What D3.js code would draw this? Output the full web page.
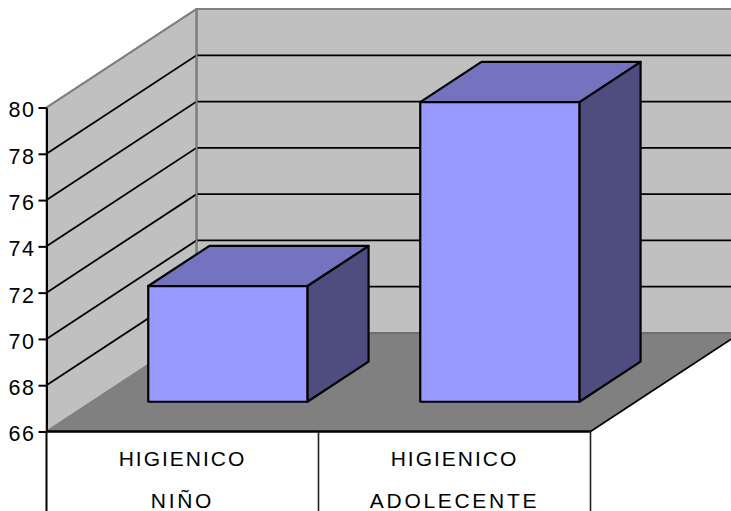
<!DOCTYPE html>
<html><head><meta charset="utf-8">
<script src="https://cdn.jsdelivr.net/npm/d3@7"></script>
<style>html,body{margin:0;padding:0;background:#fff;overflow:hidden}svg{display:block}text{font-family:"Liberation Sans",Arial,sans-serif;fill:#000}</style>
</head><body><script>
const categoryTop = ["HIGIENICO", "HIGIENICO"];
const categoryBottom = ["NIÑO", "ADOLECENTE"];
const values = [71, 78.95];
const tickValues = [66, 68, 70, 72, 74, 76, 78, 80];

const W = 731, H = 511;
const svg = d3.select("body").append("svg").attr("width", W).attr("height", H);
const y = d3.scaleLinear().domain([66, 80]).range([431.5, 107.5]);
const x = d3.scaleBand().domain(categoryBottom).range([46.5, 590.5]).paddingInner(0.415).paddingOuter(0.2075);
const dx = d3.scaleLinear().domain([0, 1]).range([0, 150]);
const dy = d3.scaleLinear().domain([0, 1]).range([0, -98.5]);
const P = (xv, v, d) => [xv + dx(d), y(v) + dy(d)];
const poly = (pts, fill, stroke, sw) => svg.append("polygon")
  .attr("points", pts.map(p => p.join(",")).join(" "))
  .attr("fill", fill).attr("stroke", stroke || "none").attr("stroke-width", sw || 0).attr("stroke-linejoin", "round");
const [x0, x1] = x.range();
const [vMin, vMax] = y.domain();

// back wall and side wall
poly([P(x0, vMin, 1), P(x0, vMax, 1), P(x1, vMax, 1), P(x1, vMin, 1)], "#C0C0C0", "#808080", 2);
poly([P(x0, vMin, 0), P(x0, vMax, 0), P(x0, vMax, 1), P(x0, vMin, 1)], "#C0C0C0", "#808080", 2);

// gridlines
tickValues.slice(1, -1).forEach(v => {
  const a = P(x0, v, 0), b = P(x0, v, 1), c = P(x1, v, 1);
  svg.append("polyline").attr("points", [a, b, c].map(p => p.join(",")).join(" "))
    .attr("fill", "none").attr("stroke", "#000").attr("stroke-width", 1.8);
});
{
  const a = P(x0, vMax, 0), b = P(x0, vMax, 1);
  svg.append("line").attr("x1", a[0]).attr("y1", a[1]).attr("x2", b[0]).attr("y2", b[1]).attr("stroke", "#808080").attr("stroke-width", 2);
  svg.append("line").attr("x1", b[0]).attr("y1", b[1]).attr("x2", b[0]).attr("y2", P(x0, vMin, 1)[1]).attr("stroke", "#808080").attr("stroke-width", 2);
}

// floor
poly([P(x0, vMin, 0), P(x1, vMin, 0), P(x1, vMin, 1), P(x0, vMin, 1)], "#808080", "none");
svg.append("line").attr("x1", P(x0, vMin, 1)[0]).attr("y1", P(x0, vMin, 1)[1]).attr("x2", P(x1, vMin, 1)[0]).attr("y2", P(x1, vMin, 1)[1]).attr("stroke", "#707070").attr("stroke-width", 2);
svg.append("line").attr("x1", P(x1, vMin, 0)[0]).attr("y1", P(x1, vMin, 0)[1]).attr("x2", P(x1, vMin, 1)[0]).attr("y2", P(x1, vMin, 1)[1]).attr("stroke", "#000").attr("stroke-width", 1.8);

// bars
const d0 = 0.302, d1 = 0.71, bw = x.bandwidth();
const stroke = "#000", sw = 2.2;
categoryBottom.forEach((c, i) => {
  const l = x(c), r = l + bw, v = values[i];
  poly([P(r, vMin, d0), P(r, v, d0), P(r, v, d1), P(r, vMin, d1)], "#4D4D80", stroke, sw);
  poly([P(l, v, d0), P(r, v, d0), P(r, v, d1), P(l, v, d1)], "#7373BF", stroke, sw);
  poly([P(l, vMin, d0), P(r, vMin, d0), P(r, v, d0), P(l, v, d0)], "#9999FF", stroke, sw);
});

// value axis
const axis = svg.append("g").attr("transform", `translate(${x0},0)`)
  .call(d3.axisLeft(y).tickValues(tickValues).tickSize(8).tickPadding(3).tickSizeOuter(0));
axis.select(".domain").attr("stroke", "#000").attr("stroke-width", 2);
axis.selectAll(".tick line").attr("stroke", "#000").attr("stroke-width", 2);
axis.selectAll(".tick text").attr("font-size", 21.5).attr("font-family", '"Liberation Sans",Arial,sans-serif').attr("fill", "#000").attr("letter-spacing", 1.6).attr("dy", "0.44em");

// category table
svg.append("line").attr("x1", x0).attr("y1", y(vMin)).attr("x2", x1).attr("y2", y(vMin)).attr("stroke", "#000").attr("stroke-width", 2.5);
const step = x.step();
[0, 1, 2].forEach(i => {
  svg.append("line").attr("x1", x0 + step * i).attr("x2", x0 + step * i).attr("y1", y(vMin)).attr("y2", H)
    .attr("stroke", i === 0 ? "#000" : "#222").attr("stroke-width", i === 0 ? 2 : 1.6);
});
categoryBottom.forEach((c, i) => {
  const cx = x(c) + bw / 2;
  svg.append("text").attr("x", cx).attr("y", 466).attr("text-anchor", "middle").attr("font-size", 21).attr("letter-spacing", 2).text(categoryTop[i]);
  svg.append("text").attr("x", cx).attr("y", 508).attr("text-anchor", "middle").attr("font-size", 21).attr("letter-spacing", 2.7).text(categoryBottom[i]);
});
</script></body></html>
